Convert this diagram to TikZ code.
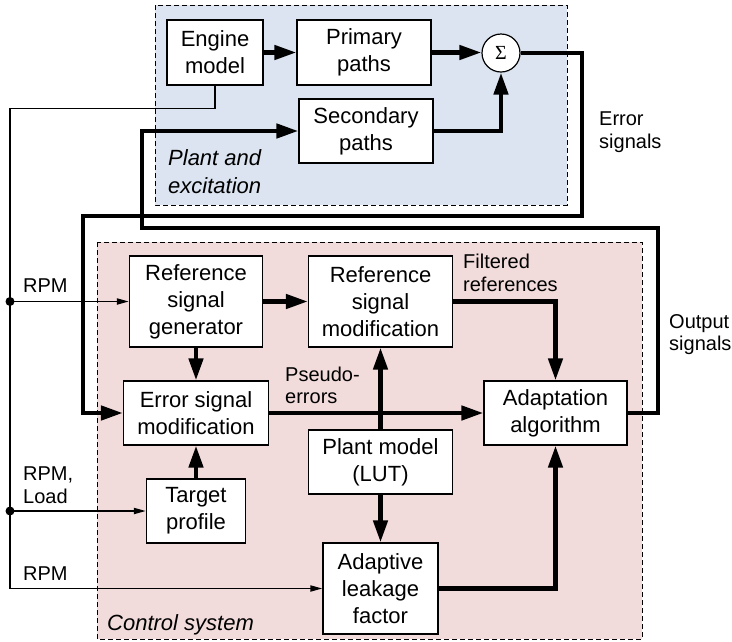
\documentclass[tikz,border=0pt]{standalone}
\usepackage{fontspec}
\setmainfont{Liberation Sans}
\newfontfamily\sigfont{Liberation Serif}
\usetikzlibrary{arrows.meta}
\definecolor{plantbg}{RGB}{219,228,240}
\definecolor{ctrlbg}{RGB}{242,220,219}
\newcommand\bxfont{\fontsize{22}{27}\selectfont}
\newcommand\lbfont{\fontsize{20}{23}\selectfont}
\newcommand\itfont{\fontsize{22}{28}\selectfont\itshape}
\begin{document}
\begin{tikzpicture}[x=1pt,y=-1pt,line join=miter,
  blk/.style={draw,line width=1.2pt,fill=white,align=center,inner sep=0pt,font=\bxfont},
  region/.style={draw,line width=1pt,dash pattern=on 5pt off 3pt},
  thk/.style={line width=4.5pt,-{Triangle[length=22pt,width=14pt]}},
  thn/.style={line width=1.8pt,-{Triangle[length=12pt,width=6pt]}},
  lbl/.style={anchor=base west,inner sep=0pt,font=\lbfont},
  ilbl/.style={anchor=base west,inner sep=0pt,font=\itfont}]
\useasboundingbox (0,0) rectangle (732,641);

% subsystem areas
\filldraw[region,fill=plantbg] (155,5) rectangle (567,205);
\filldraw[region,fill=ctrlbg] (97,242) rectangle (642,639);

% plant and excitation blocks
\node[blk,minimum width=96pt,minimum height=65pt] (eng) at (215,52.5) {Engine\\model};
\node[blk,minimum width=134pt,minimum height=65pt] (prim) at (364,52.5) {Primary\\paths};
\node[blk,minimum width=134pt,minimum height=64pt] (sec) at (366,131) {Secondary\\paths};
\node[draw,circle,line width=1.2pt,fill=white,inner sep=0pt,minimum size=38pt,
      font=\fontsize{20}{20}\sigfont] (sig) at (501,53) {Σ};

% control system blocks
\node[blk,minimum width=133pt,minimum height=91pt] (rsg) at (196,301.5) {Reference\\signal\\generator};
\node[blk,minimum width=144pt,minimum height=91pt] (rsm) at (380.5,301.5) {Reference\\signal\\modification};
\node[blk,minimum width=145pt,minimum height=64pt] (esm) at (196,413) {Error signal\\modification};
\node[blk,minimum width=143pt,minimum height=64pt] (adapt) at (555.5,413) {Adaptation\\algorithm};
\node[blk,minimum width=144pt,minimum height=64pt] (pm) at (380.5,462) {Plant model\\(LUT)};
\node[blk,minimum width=99pt,minimum height=64pt] (tgt) at (196,511) {Target\\profile};
\node[blk,minimum width=115pt,minimum height=91pt] (leak) at (380.5,588.5) {Adaptive\\leakage\\factor};

% bend points of the long feedback lines
\coordinate (eR) at (582,216);
\coordinate (eL) at (83,216);
\coordinate (oR) at (658,228);
\coordinate (oL) at (142,228);
\coordinate (tL) at (10,108.5);
\coordinate (d1) at (10,301.5);
\coordinate (d2) at (10,511);

% RPM / load distribution
\draw[thn] (eng.south) |- (tL) |- (leak.west);
\draw[thn] (d1) -- (rsg.west);
\draw[thn] (d2) -- (tgt.west);
\fill (d1) circle (4.5pt);
\fill (d2) circle (4.5pt);

% signal paths
\draw[thk] (eng.east) -- (prim.west);
\draw[thk] (prim.east) -- (prim.east -| sig.west);
\draw[thk] (sec.east) -| (sig.south);
\draw[thk] (sig.east) -| (eR) -- (eL) |- (esm.west);
\draw[thk] (adapt.east) -| (oR) -- (oL) |- (sec.west);
\draw[thk] (rsg.east) -- (rsm.west);
\draw[thk] (rsg.south) -- (esm.north);
\draw[thk] (tgt.north) -- (esm.south);
\draw[thk] (esm.east) -- (adapt.west);
\draw[thk] (pm.north) -- (rsm.south);
\draw[thk] (pm.south) -- (leak.north);
\draw[thk] (rsm.east) -| (adapt.north);
\draw[thk] (leak.east) -| (adapt.south);

% signal labels
\node[lbl] (es1) at (599,125) {Error};
\node[lbl] (es2) at (599,148) {signals};
\node[lbl] (os1) at (669,328) {Output};
\node[lbl] (os2) at (669,350) {signals};
\node[lbl] (fr1) at (463,268) {Filtered};
\node[lbl] (fr2) at (463,291) {references};
\node[lbl] (pe1) at (285,381) {Pseudo-};
\node[lbl] (pe2) at (285,403.5) {errors};
\node[lbl] (r1) at (23,292) {RPM};
\node[lbl] (r2a) at (23,480) {RPM,};
\node[lbl] (r2b) at (23,503) {Load};
\node[lbl] (r3) at (23,580) {RPM};

% area captions
\node[ilbl] (pl1) at (168,165) {Plant and};
\node[ilbl] (pl2) at (168,193) {excitation};
\node[ilbl] (cs) at (107,630) {Control system};
\end{tikzpicture}
\end{document}
